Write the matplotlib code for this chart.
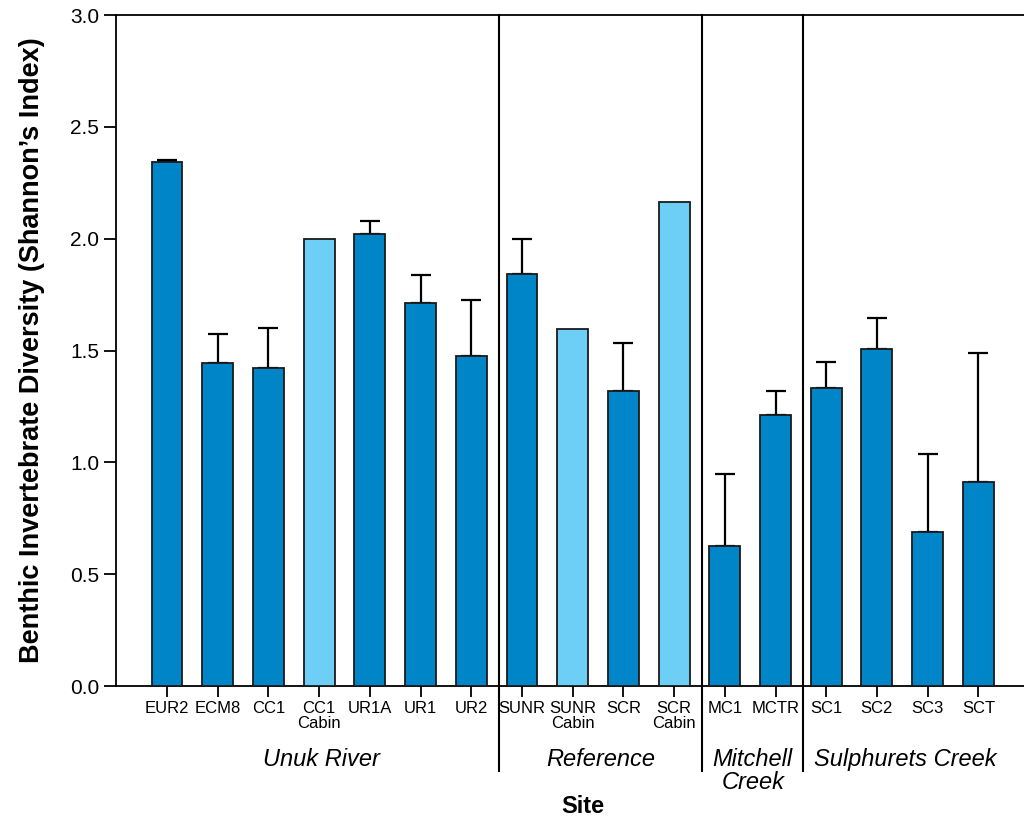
import numpy as np
import matplotlib.pyplot as plt

sites = ['EUR2', 'ECM8', 'CC1', 'CC1\nCabin', 'UR1A', 'UR1', 'UR2',
         'SUNR', 'SUNR\nCabin', 'SCR', 'SCR\nCabin',
         'MC1', 'MCTR',
         'SC1', 'SC2', 'SC3', 'SCT']
diversity = [2.345, 1.443, 1.423, 2.0, 2.022, 1.714, 1.477,
             1.843, 1.596, 1.32, 2.164,
             0.626, 1.21,
             1.331, 1.508, 0.689, 0.91]
upper_err = [0.005, 0.131, 0.177, 0.0, 0.057, 0.122, 0.249,
             0.155, 0.0, 0.215, 0.0,
             0.322, 0.109,
             0.118, 0.139, 0.35, 0.577]
cabin = [False, False, False, True, False, False, False,
         False, True, False, True,
         False, False,
         False, False, False, False]
groups = ['Unuk River', 'Reference', 'Mitchell\nCreek', 'Sulphurets Creek']
group_start = [0, 7, 11, 13]
group_end = [6, 10, 12, 16]

plt.rcParams['font.family'] = ['Liberation Sans', 'DejaVu Sans']

dark = '#0085c8'
light = '#6dcff6'

fig = plt.figure(figsize=(10.24, 8.21), dpi=100)
ax = fig.add_axes([0.1133, 0.1644, 0.8867, 0.8173])

x = np.arange(len(sites))
colors = [light if c else dark for c in cabin]
ax.bar(x, diversity, width=0.61, color=colors, edgecolor='#1a1a1a', linewidth=1.3, zorder=3)

# only sites with replicates have error bars
err = np.array(upper_err)
has = err > 0
ax.errorbar(x[has], np.array(diversity)[has], yerr=[np.zeros(has.sum()), err[has]], fmt='none',
            ecolor='black', elinewidth=1.6, capsize=7.5, capthick=1.6, zorder=2)

ax.set_xlim(-1.006, 16.9)
ax.set_ylim(0, 3.0)
ax.set_yticks([0, 0.5, 1.0, 1.5, 2.0, 2.5, 3.0])
ax.set_yticklabels(['0.0', '0.5', '1.0', '1.5', '2.0', '2.5', '3.0'])
ax.set_xticks(x)
ax.set_xticklabels(sites, fontsize=12, linespacing=0.95)
ax.tick_params(axis='y', direction='out', length=9, width=1.3, labelsize=15, pad=3)
ax.tick_params(axis='x', direction='out', length=8, width=1.3, pad=3)

ax.spines['right'].set_visible(False)
for s in ['left', 'top', 'bottom']:
    ax.spines[s].set_linewidth(1.3)

# group separators, running from the top down past the tick labels
for i in range(1, len(groups)):
    xs = (group_end[i - 1] + group_start[i]) / 2 + 0.05
    ax.plot([xs, xs], [3.0, -0.38], color='black', linewidth=1.5, clip_on=False, zorder=4)

for g, a, b in zip(groups, group_start, group_end):
    yy = -0.33 if '\n' not in g else -0.38
    ax.text((a + b) / 2 + 0.05, yy, g, ha='center', va='center', fontsize=17, style='italic',
            linespacing=0.95)

ax.text(8.2, -0.54, 'Site', ha='center', va='center', fontsize=17, fontweight='bold')
ax.set_ylabel('Benthic Invertebrate Diversity (Shannon\u2019s Index)', fontsize=19.5,
              fontweight='bold', labelpad=18)

fig.savefig('out.png', dpi=100)
